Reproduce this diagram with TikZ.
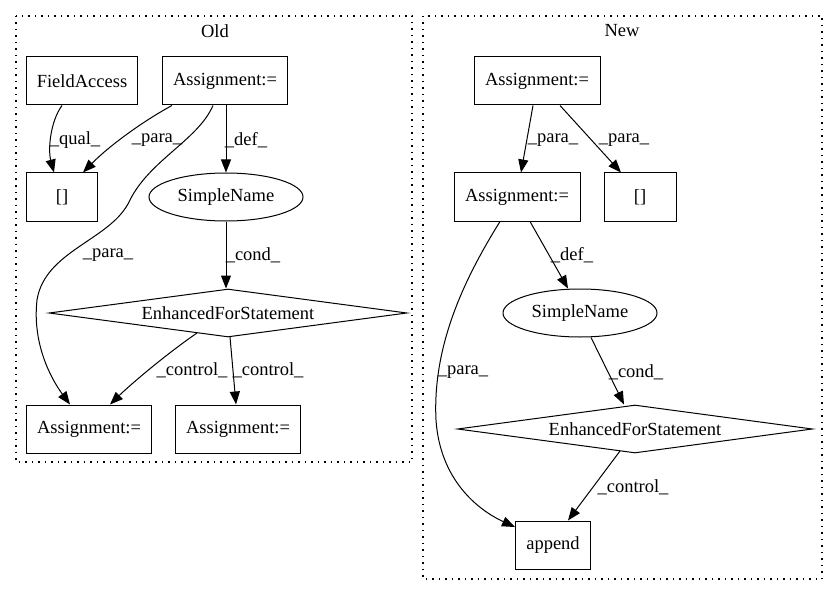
\documentclass[tikz,border=0pt]{standalone}
\usepackage{fontspec}
\setmainfont{Liberation Serif}
\usetikzlibrary{shapes.geometric,arrows.meta,calc}
\tikzset{
  box/.style={draw, line width=1pt, rectangle, inner sep=0pt, minimum height=48pt},
  ell/.style={draw, line width=1pt, ellipse, inner sep=0pt, minimum width=154pt, minimum height=48pt},
  dia/.style={draw, line width=1pt, diamond, aspect=7.5, inner sep=0pt, minimum width=358pt, minimum height=48pt},
  edge/.style={draw, line width=1pt, -{Triangle[length=13pt,width=10pt]}},
  lbl/.style={inner sep=0pt},
  cluster/.style={draw, line width=1.2pt, dash pattern=on 1.5pt off 5pt},
}
\begin{document}
\begin{tikzpicture}[x=1pt,y=-1pt,font=\fontsize{18.5}{22}\selectfont]
\useasboundingbox (0,0) rectangle (837,596);
% clusters
\draw[cluster] (16,16) rectangle (412,462);
\node[lbl] (oldt) at (215,31) {Old};
\draw[cluster] (423,16) rectangle (822,579);
\node[lbl] (newt) at (622,31) {New};
% Old nodes
\node[box, minimum width=111pt] (fa) at (82,81) {FieldAccess};
\node[box, minimum width=125pt] (oa) at (225,81) {Assignment:=};
\node[box, minimum width=71pt] (ob) at (62,197) {[]};
\node[ell] (osn) at (226,197) {SimpleName};
\node[dia] (oefs) at (228,313) {EnhancedForStatement};
\node[box, minimum width=125pt] (obl) at (89,429) {Assignment:=};
\node[box, minimum width=125pt] (obr) at (238,429) {Assignment:=};
% Old edges
\draw[edge] ([xshift=-20pt]fa.south) .. controls (50,122) and (48,150) .. ([xshift=-8pt]ob.north);
\draw[edge] ([xshift=-53pt]oa.south) .. controls (145,120) and (110,145) .. ([xshift=21pt]ob.north);
\draw[edge] ([xshift=1pt]oa.south) -- (osn.north);
\draw[edge] ([xshift=-12pt]oa.south) .. controls (198,140) and (150,160) .. (130,200) .. controls (112,240) and (45,250) .. (37,300) .. controls (32,345) and (52,380) .. ([xshift=-19pt]obl.north);
\draw[edge] (osn.south) -- ([xshift=-2pt]oefs.north);
\draw[edge] ($(oefs)+(-31,20)$) .. controls (165,355) and (130,385) .. ([xshift=21pt]obl.north);
\draw[edge] ($(oefs)+(2,24)$) -- ([xshift=-2pt]obr.north);
\node[lbl] at (75,140) {\_qual\_};
\node[lbl] at (157,140) {\_para\_};
\node[lbl] at (246,140) {\_def\_};
\node[lbl] at (108,255) {\_para\_};
\node[lbl] at (253,255) {\_cond\_};
\node[lbl] at (192,370) {\_control\_};
\node[lbl] at (268,370) {\_control\_};
% New nodes
\node[box, minimum width=126pt] (na) at (537,81) {Assignment:=};
\node[box, minimum width=126pt] (nm) at (517,197) {Assignment:=};
\node[box, minimum width=72pt] (nb) at (640,197) {[]};
\node[ell] (nsn) at (580,313) {SimpleName};
\node[dia, minimum width=355pt] (nefs) at (635,429) {EnhancedForStatement};
\node[box, minimum width=75pt] (app) at (553,545) {append};
% New edges
\draw[edge] ([xshift=-4pt]na.south) -- ([xshift=4pt]nm.north);
\draw[edge] ([xshift=23pt]na.south) -- ([xshift=-19pt]nb.north);
\draw[edge] ([xshift=13pt]nm.south) -- ([xshift=-12pt]nsn.north);
\draw[edge] ([xshift=-17pt]nm.south) .. controls (470,270) and (432,340) .. (436,420) .. controls (440,480) and (478,510) .. ([yshift=18pt]app.west);
\draw[edge] ([xshift=11pt]nsn.south) -- ([xshift=-11pt]nefs.north);
\draw[edge] ($(nefs)+(-15,22)$) -- ([xshift=15pt]app.north);
\node[lbl] at (553,140) {\_para\_};
\node[lbl] at (624,140) {\_para\_};
\node[lbl] at (572,255) {\_def\_};
\node[lbl] at (463,372) {\_para\_};
\node[lbl] at (636,372) {\_cond\_};
\node[lbl] at (633,487) {\_control\_};
\end{tikzpicture}
\end{document}
